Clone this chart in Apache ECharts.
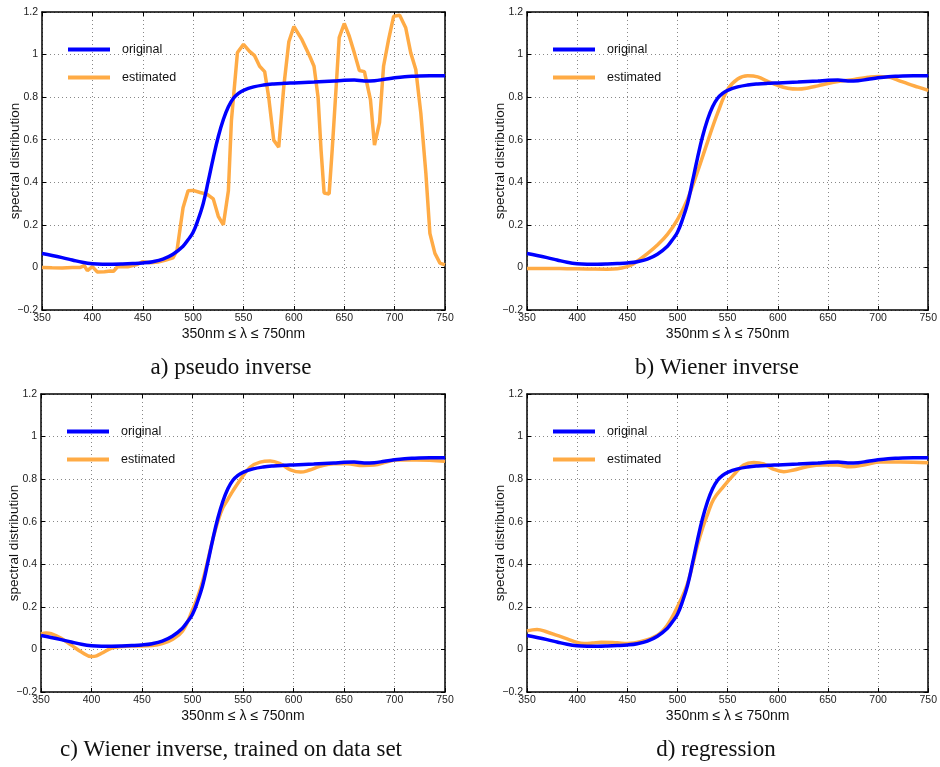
<!DOCTYPE html>
<html>
<head>
<meta charset="utf-8">
<script src="https://cdn.jsdelivr.net/npm/echarts@6/dist/echarts.min.js"></script>
<style>
html,body{margin:0;padding:0;background:#fff;}
#chart{width:940px;height:767px;}
</style>
</head>
<body>
<div id="chart"></div>
<script>
// ---- data ----
var xTicks = [350, 400, 450, 500, 550, 600, 650, 700, 750];
var yTicks = [-0.2, 0, 0.2, 0.4, 0.6, 0.8, 1, 1.2];
var panelCaptions = ['a) pseudo inverse', 'b) Wiener inverse', 'c) Wiener inverse, trained on data set', 'd) regression'];
var seriesNames = ['original', 'estimated'];
var xAxisTitle = '350nm \u2264 \u03bb \u2264 750nm';
var yAxisTitle = 'spectral distribution';

// original spectrum (same in all panels)
var origLambda = [350,360,370,380,390,400,410,420,430,440,450,460,470,480,490,495,500,505,510,515,520,525,530,535,540,545,550,560,570,580,590,600,620,640,650,660,670,680,690,700,710,720,735,750];
var origValue  = [0.065,0.056,0.046,0.035,0.024,0.017,0.015,0.015,0.016,0.018,0.021,0.027,0.039,0.062,0.1,0.13,0.165,0.225,0.3,0.405,0.515,0.615,0.695,0.755,0.795,0.818,0.832,0.848,0.857,0.862,0.865,0.867,0.871,0.876,0.879,0.88,0.876,0.877,0.884,0.891,0.896,0.898,0.9,0.9];

// a) pseudo inverse estimate
var pinvLambda = [350,360,370,380,388,392,395,400,405,412,418,421,425,435,445,450,458,465,472,480,484,487,490,495,500,507,514,520,525,530,535,538,544,550,556,561,566,571,575,580,585,590,595,600,608,616,620,624,627,630,635,638,642,645,650,655,660,665,670,676,680,685,689,694,699,705,711,716,721,726,731,735,740,745,750];
var pinvValue  = [0.0,-0.002,-0.003,0.0,0.0,0.008,-0.015,0.004,-0.022,-0.02,-0.017,-0.018,0.003,0.003,0.015,0.027,0.022,0.025,0.033,0.045,0.08,0.18,0.28,0.36,0.362,0.352,0.343,0.322,0.24,0.2,0.36,0.69,1.01,1.048,1.015,0.995,0.945,0.92,0.8,0.598,0.565,0.85,1.06,1.132,1.07,0.99,0.945,0.8,0.55,0.35,0.345,0.55,0.85,1.08,1.146,1.086,1.008,0.925,0.92,0.788,0.575,0.68,0.945,1.07,1.18,1.185,1.126,1.008,0.93,0.725,0.443,0.16,0.066,0.02,0.012];

// b) Wiener inverse estimate
var wienLambda = [350,370,390,410,430,440,450,455,460,470,480,490,500,510,520,530,540,550,560,570,580,590,600,610,620,630,640,650,660,670,680,690,700,710,720,730,740,750];
var wienValue  = [-0.005,-0.005,-0.006,-0.007,-0.008,-0.006,0.004,0.014,0.03,0.065,0.105,0.155,0.225,0.32,0.45,0.59,0.725,0.835,0.885,0.9,0.895,0.874,0.855,0.842,0.838,0.843,0.853,0.864,0.873,0.879,0.886,0.893,0.897,0.895,0.879,0.862,0.847,0.832];

// c) Wiener inverse trained on data set estimate
var trainLambda = [350,355,360,370,380,390,400,405,410,420,430,440,450,460,470,480,490,500,505,510,515,520,525,530,535,540,547,557,567,577,587,597,607,616,626,640,653,669,680,692,702,722,750];
var trainValue  = [0.072,0.077,0.074,0.052,0.02,-0.012,-0.033,-0.03,-0.018,0.006,0.014,0.016,0.016,0.018,0.027,0.047,0.085,0.185,0.245,0.32,0.415,0.515,0.6,0.665,0.705,0.745,0.795,0.856,0.88,0.885,0.872,0.844,0.833,0.843,0.86,0.872,0.872,0.864,0.866,0.88,0.89,0.89,0.884];

// d) regression estimate
var regrLambda = [350,360,370,380,390,400,407,415,424,440,450,463,480,490,500,510,520,525,530,536,546,556,566,576,586,596,606,616,629,645,659,672,688,702,722,750];
var regrValue  = [0.087,0.094,0.082,0.066,0.05,0.033,0.028,0.03,0.034,0.031,0.028,0.036,0.067,0.115,0.2,0.31,0.49,0.57,0.635,0.705,0.766,0.82,0.866,0.878,0.871,0.846,0.835,0.843,0.858,0.866,0.866,0.858,0.869,0.88,0.881,0.877];

function pairs(xs, ys) { return xs.map(function (x, i) { return [x, ys[i]]; }); }

var estimates = [
  {data: pairs(pinvLambda, pinvValue), smooth: false},
  {data: pairs(wienLambda, wienValue), smooth: 0.4},
  {data: pairs(trainLambda, trainValue), smooth: 0.4},
  {data: pairs(regrLambda, regrValue), smooth: 0.4}
];
var origData = pairs(origLambda, origValue);

// ---- layout ----
var grids = [
  {left: 42, top: 12, width: 403, height: 298},
  {left: 527, top: 12, width: 403, height: 298},
  {left: 41, top: 394, width: 404, height: 298},
  {left: 527, top: 394, width: 403, height: 298}
];
var captionPos = [[231, 368], [717, 368], [231, 750], [716, 750]];

var BLUE = '#0000ff', ORANGE = '#ffab45';
var tickFont = {fontFamily: 'Liberation Sans', fontSize: 10.5, color: '#222'};

var option = {
  backgroundColor: '#fff',
  animation: false,
  grid: [], xAxis: [], yAxis: [], series: [], legend: [], graphic: []
};

grids.forEach(function (g, i) {
  option.grid.push({left: g.left, top: g.top, width: g.width, height: g.height, containLabel: false});
  var axisLine = {show: true, onZero: false, lineStyle: {color: '#000', width: 1.5}};
  var tick = {show: true, inside: true, length: 4, lineStyle: {color: '#000', width: 1}};
  var split = {show: true, lineStyle: {color: '#888', width: 1, type: [1, 3]}};
  // bottom x
  option.xAxis.push({
    type: 'value', gridIndex: i, min: xTicks[0], max: xTicks[xTicks.length - 1], interval: 50,
    position: 'bottom', axisLine: axisLine, axisTick: tick, splitLine: split,
    axisLabel: Object.assign({margin: 3, formatter: function (v) { return String(v); }}, tickFont),
    name: xAxisTitle, nameLocation: 'middle', nameGap: 17, nameMoveOverlap: false,
    nameTextStyle: {fontFamily: 'Liberation Sans', fontSize: 14, color: '#111'}
  });
  // top x (ticks only)
  option.xAxis.push({
    type: 'value', gridIndex: i, min: xTicks[0], max: xTicks[xTicks.length - 1], interval: 50,
    position: 'top', axisLine: axisLine, axisTick: tick, splitLine: {show: false}, axisLabel: {show: false}
  });
  // left y
  option.yAxis.push({
    type: 'value', gridIndex: i, min: yTicks[0], max: yTicks[yTicks.length - 1], interval: 0.2,
    position: 'left', axisLine: axisLine, axisTick: tick, splitLine: split,
    axisLabel: Object.assign({margin: 4, formatter: function (v) {
      return String(Math.round(v * 10) / 10).replace('-', '\u2212');
    }}, tickFont),
    name: yAxisTitle, nameLocation: 'middle', nameGap: 20, nameMoveOverlap: false,
    nameTextStyle: {fontFamily: 'Liberation Sans', fontSize: 13.5, color: '#111'}
  });
  // right y (ticks only)
  option.yAxis.push({
    type: 'value', gridIndex: i, min: yTicks[0], max: yTicks[yTicks.length - 1], interval: 0.2,
    position: 'right', axisLine: axisLine, axisTick: tick, splitLine: {show: false}, axisLabel: {show: false}
  });

  option.series.push({
    name: seriesNames[1], type: 'line', xAxisIndex: 2 * i, yAxisIndex: 2 * i,
    data: estimates[i].data, smooth: estimates[i].smooth, showSymbol: false, symbol: 'none',
    lineStyle: {color: ORANGE, width: 3.5}, itemStyle: {color: ORANGE}, z: 2
  });
  option.series.push({
    name: seriesNames[0], type: 'line', xAxisIndex: 2 * i, yAxisIndex: 2 * i,
    data: origData, smooth: 0.4, showSymbol: false, symbol: 'none',
    lineStyle: {color: BLUE, width: 3.5}, itemStyle: {color: BLUE}, z: 3
  });

  option.legend.push({
    data: [seriesNames[0], seriesNames[1]], orient: 'vertical',
    left: g.left + 21, top: g.top + 26, itemGap: 15, itemWidth: 42, itemHeight: 4,
    icon: 'rect', selectedMode: false,
    textStyle: {fontFamily: 'Liberation Sans', fontSize: 12.5, color: '#111', padding: [0, 0, 0, 7]}
  });

  option.graphic.push({
    type: 'text', x: captionPos[i][0], y: captionPos[i][1],
    style: {text: panelCaptions[i], font: '23px "Liberation Serif"', fill: '#111',
      textAlign: 'center', textVerticalAlign: 'middle'}
  });
});

var chart = echarts.init(document.getElementById('chart'), null, {renderer: 'canvas'});
chart.setOption(option);
</script>
</body>
</html>
